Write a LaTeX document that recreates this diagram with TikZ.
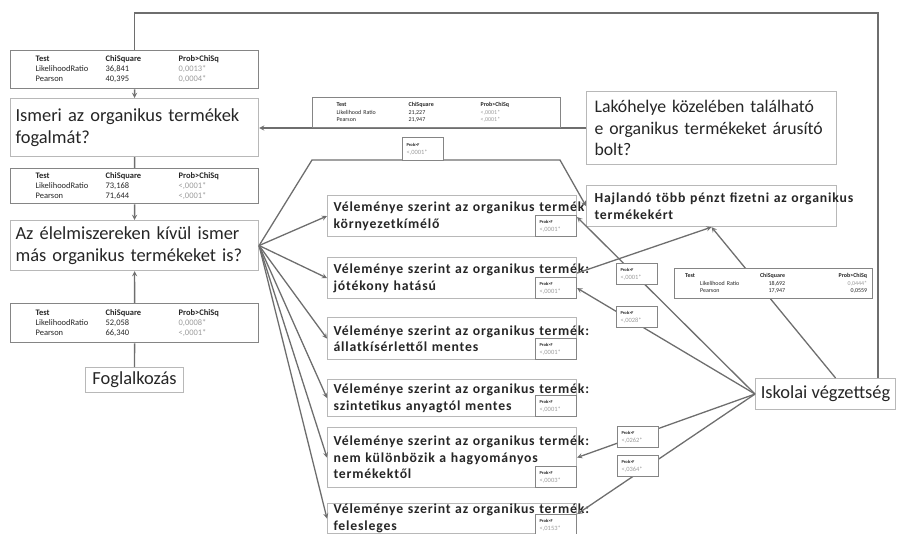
\documentclass[tikz,border=0pt]{standalone}
\usepackage{fontspec}
\setmainfont{Carlito}
\newfontfamily\spacedfont[LetterSpace=6]{Carlito}
\usepackage{array}
\usepackage{xcolor}
\usetikzlibrary{positioning}

\definecolor{linegray}{HTML}{6E6E6E}
\definecolor{boxgray}{HTML}{B8B8B8}
\definecolor{tabgray}{HTML}{858585}
\definecolor{txtgray}{HTML}{262626}
\definecolor{valgray}{HTML}{9C9C9C}

\newcommand{\qfont}{\fontsize{18.5}{21.7}\selectfont}
\newcommand{\vlfont}{\spacedfont\bfseries\fontsize{13.8}{16.7}\selectfont}
\newcommand{\chifont}{\fontsize{8.5}{10}\selectfont}
\newcommand{\smallchifont}{\fontsize{6}{7.5}\selectfont}

% khi-négyzet tábla (bal oldali oszlop)
\newcommand{\chitab}[4]{%
  \begin{tabular}{@{}p{70bp}@{}p{73bp}@{}l@{}}
    \textbf{Test} & \textbf{ChiSquare} & \textbf{Prob>ChiSq}\\
    LikelihoodRatio & #1 & \textcolor{valgray}{#3}\\
    Pearson & #2 & \textcolor{valgray}{#4}
  \end{tabular}}
% Prob>F címke
\newcommand{\probf}[1]{{\fontsize{4.5}{5}\selectfont\textbf{Prob>F}}\\\textcolor{valgray}{#1}}

\tikzset{
  qbox/.style={draw=boxgray, line width=1.1bp, fill=white, anchor=north west,
    inner xsep=5bp, inner ysep=0pt, align=left, text=txtgray},
  bigq/.style={qbox, font=\qfont},
  vq/.style={qbox, font=\vlfont, inner xsep=6bp, minimum width=249bp, text width=237bp},
  tab/.style={draw=tabgray, line width=1.3bp, fill=white, anchor=north west,
    inner ysep=0pt, align=left, text=txtgray, minimum width=248bp,
    inner xsep=25bp, text width=198bp, font=\chifont},
  pbox/.style={draw=tabgray, line width=1bp, fill=white, anchor=north west,
    inner xsep=4bp, inner ysep=0pt, align=left, minimum width=41bp,
    minimum height=21bp, text width=33bp, text=txtgray,
    font=\fontsize{6.5}{8}\selectfont},
  conn/.style={->, draw=linegray, line width=1.3bp},
  link/.style={draw=linegray, line width=1.3bp}
}

\begin{document}
\begin{tikzpicture}[x=1bp, y=-1bp, >=stealth]
  \useasboundingbox (0,0) rectangle (898,534);

  % bal oszlop: táblák és kérdések
  \node[tab, minimum height=38bp] (t1) at (10,50) {\chitab{36,841}{40,395}{0,0013*}{0,0004*}};
  \node[bigq, minimum width=248bp, minimum height=58bp, text width=238bp] (ism) at (10,98)
    {\mbox{Ismeri az organikus termékek}\\fogalmát?};
  \node[tab, minimum height=35bp] (t2) at (10,168) {\chitab{73,168}{71,644}{<,0001*}{<,0001*}};
  \node[bigq, minimum width=248bp, minimum height=50bp, text width=238bp] (az) at (10,220)
    {\mbox{Az élelmiszereken kívül ismer}\\\mbox{más organikus termékeket is?}};
  \node[tab, minimum height=39bp] (t3) at (10,303) {\chitab{52,058}{66,340}{0,0008*}{<,0001*}};
  \node[bigq, minimum width=98bp, minimum height=25bp, align=center] (fog) at (85,367)
    {Foglalkozás};

  % jobb felső kérdés
  \node[bigq, font=\fontsize{17.8}{21.7}\selectfont, minimum width=250bp, minimum height=73bp, inner xsep=8bp, text width=234bp] (lak) at (586,91)
    {\mbox{Lakóhelye közelében található}\\\mbox{e organikus termékeket árusító}\\bolt?};

  % vélemény dobozok
  \node[vq, minimum height=41bp] (v1) at (327,195)
    {\mbox{Véleménye szerint az organikus termék:}\\környezetkímélő};
  \node[pbox, anchor=south east] (v1p) at (v1.south east) {\probf{<,0001*}};
  \node[vq, minimum height=41bp] (v2) at (327,257)
    {\mbox{Véleménye szerint az organikus termék:}\\jótékony hatású};
  \node[pbox, anchor=south east] (v2p) at (v2.south east) {\probf{<,0001*}};
  \node[vq, minimum height=42bp] (v3) at (327,317)
    {\mbox{Véleménye szerint az organikus termék:}\\állatkísérlettől mentes};
  \node[pbox, anchor=south east] (v3p) at (v3.south east) {\probf{<,0001*}};
  \node[vq, minimum height=37bp] (v4) at (327,379)
    {\mbox{Véleménye szerint az organikus termék:}\\szintetikus anyagtól mentes};
  \node[pbox, anchor=south east] (v4p) at (v4.south east) {\probf{<,0001*}};
  \node[vq, minimum height=60bp] (v5) at (327,427)
    {\mbox{Véleménye szerint az organikus termék:}\\nem különbözik a hagyományos\\termékektől};
  \node[pbox, anchor=south east] (v5p) at (v5.south east) {\probf{<,0003*}};
  \node[vq, minimum width=246bp, minimum height=30bp] (v6) at (327,503)
    {\mbox{Véleménye szerint az organikus termék:}\\felesleges};
  \node[pbox, anchor=south east] (v6p) at ([yshift=-2bp]v6.south east) {\probf{<,0153*}};

  \node[qbox, font=\vlfont, minimum width=250bp, minimum height=41bp, inner xsep=8bp, text width=234bp] (haj) at (586,185)
    {\mbox{Hajlandó több pénzt fizetni az organikus}\\termékekért};
  \node[bigq, font=\fontsize{18.5}{20}\selectfont, minimum width=140bp, minimum height=31bp, align=center] (isk) at (755,378)
    {Iskolai végzettség};

  % segédpontok
  \coordinate (pk1) at (312,160);
  \coordinate (pk2) at (560,160);
  \coordinate (topr) at (878,13);

  % kapcsolatok
  \draw[link] (isk.north -| topr) -- (topr) -| (t1.north);
  \draw[conn] (t1) -- (ism);
  \draw[link] (ism) -- (t2);
  \draw[conn] (t2) -- (az);
  \draw[conn] (t3) -- (az);
  \draw[link] (t3) -- (fog);
  \draw[conn] (lak.west) -- (lak.west -| ism.east);
  \draw[conn] (az.east) -- (v1.west);
  \draw[conn] (az.east) -- (v2.west);
  \draw[conn] (az.east) -- (v3.west);
  \draw[conn] (az.east) -- (v4.west);
  \draw[conn] (az.east) -- (v5.west);
  \draw[conn] (az.east) -- (v6.west);
  \draw[conn] (az.east) -- (pk1) -- (pk2) -- (haj.west);
  \draw[conn] ([yshift=5bp]v2.east) -- (haj.south);
  \draw[conn] ([xshift=10bp]isk.north) -- (haj.south);
  \draw[conn] (isk.west) -- ([yshift=-2bp]v1p.north east);
  \draw[conn] (isk.west) -- (v2p.east);
  \draw[conn] (isk.west) -- (v5.east);
  \draw[conn] (isk.west) -- (v6p.north east);

  % címkék a vonalakon
  \node[tab, minimum height=30bp, inner xsep=24bp, text width=200bp, font=\smallchifont] (t4) at (312,97)
    {\begin{tabular}{@{}p{72bp}@{}p{72bp}@{}l@{}}
      \textbf{Test} & \textbf{ChiSquare} & \textbf{Prob>ChiSq}\\
      Likelihood Ratio & 21,227 & \textcolor{valgray}{<,0001*}\\
      Pearson & 21,947 & \textcolor{valgray}{<,0001*}
    \end{tabular}};
  \node[pbox, minimum height=23bp] (pkp) at (402,137) {\probf{<,0001*}};
  \node[tab, minimum width=198bp, minimum height=30bp, inner xsep=5.5bp, text width=187bp, font=\smallchifont] (t5) at (674,268)
    {\begin{tabular}{@{}p{20bp}@{}p{42bp}@{}>{\raggedleft\arraybackslash}p{43bp}@{}>{\raggedleft\arraybackslash}p{82bp}@{}}
      \multicolumn{2}{@{}l}{\hspace{5bp}\textbf{Test}} & \textbf{ChiSquare} & \textbf{Prob>ChiSq}\\
      & \mbox{Likelihood Ratio} & 18,692 & \textcolor{valgray}{0,0444*}\\
      & Pearson & 17,947 & 0,0559
    \end{tabular}};
  \node[pbox] (pa) at (616,263) {\probf{<,0001*}};
  \node[pbox] (pb) at (616,306) {\probf{<,0028*}};
  \node[pbox] (pc) at (617,426) {\probf{<,0262*}};
  \node[pbox] (pd) at (617,455) {\probf{<,0364*}};
\end{tikzpicture}
\end{document}
